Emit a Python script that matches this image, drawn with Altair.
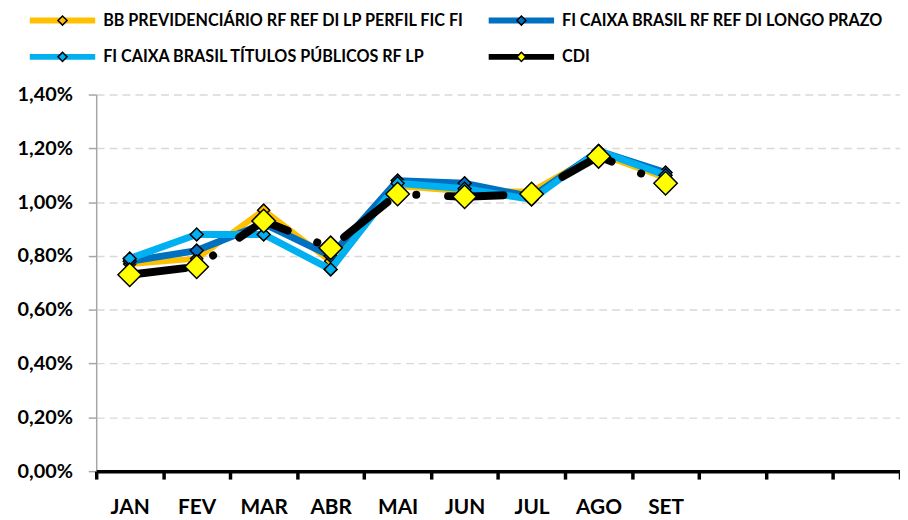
import altair as alt
import pandas as pd

# ---------------- data ----------------
months = ["JAN", "FEV", "MAR", "ABR", "MAI", "JUN", "JUL", "AGO", "SET"]
blank_months = ["OUT", "NOV", "DEZ"]
series_names = [
    "BB PREVIDENCIÁRIO RF REF DI LP PERFIL FIC FI",
    "FI CAIXA BRASIL RF REF DI LONGO PRAZO",
    "FI CAIXA BRASIL TÍTULOS PÚBLICOS RF LP",
    "CDI",
]
bb_values = [0.77, 0.79, 0.97, 0.78, 1.06, 1.04, 1.04, 1.18, 1.09]
caixa_di_values = [0.78, 0.82, 0.92, 0.80, 1.08, 1.07, 1.02, 1.19, 1.11]
caixa_tp_values = [0.79, 0.88, 0.88, 0.75, 1.07, 1.05, 1.01, 1.19, 1.10]
cdi_values = [0.73, 0.76, 0.93, 0.83, 1.03, 1.02, 1.03, 1.17, 1.07]
y_ticks = [0.0, 0.2, 0.4, 0.6, 0.8, 1.0, 1.2, 1.4]

# ---------------- styles ----------------
line_colors = ["#FFC000", "#0070C0", "#00B0F0", "#000000"]
marker_fills = ["#FFC000", "#0070C0", "#00B0F0", "#FFFF00"]
line_widths = [6, 7, 7, 8]
marker_sizes = [150, 170, 170, 560]
cdi_dash = [56, 32, 0.1, 32]
legend_order = [0, 2, 1, 3]  # legend fills column by column
FONT = "Lato"

rows = []
for name, vals in zip(series_names, [bb_values, caixa_di_values, caixa_tp_values, cdi_values]):
    for m, v in zip(months, vals):
        rows.append({"mes": m, "serie": name, "serie_f": name, "valor": v})
df = pd.DataFrame(rows)

leg_domain = [series_names[i] for i in legend_order]
leg_line_range = [line_colors[i] for i in legend_order]
leg_fill_range = [marker_fills[i] for i in legend_order]

x_enc = alt.X(
    "mes:N",
    scale=alt.Scale(type="band", domain=months + blank_months, paddingInner=0, paddingOuter=0),
    axis=alt.Axis(
        title=None, orient="bottom", tickBand="extent", labelAngle=0,
        labelExpr="indexof(['OUT','NOV','DEZ'], datum.value) >= 0 ? '' : datum.value",
        labelFont=FONT, labelFontWeight="bold", labelFontSize=21, labelColor="black",
        labelPadding=18, domainColor="black", domainWidth=3.5, tickColor="black",
        tickWidth=3.5, tickSize=8, grid=False, zindex=1,
    ),
)
y_enc = alt.Y(
    "valor:Q",
    scale=alt.Scale(domain=[0, 1.4], nice=False, zero=True),
    axis=alt.Axis(
        title=None, values=y_ticks,
        labelExpr="replace(format(datum.value, '.2f'), '.', ',') + '%'",
        labelFont=FONT, labelFontWeight="bold", labelFontSize=20, labelColor="black",
        labelPadding=16, tickSize=8, tickColor="#A6A6A6", tickWidth=1.5,
        domainColor="#A6A6A6", domainWidth=1.5, grid=True, gridColor="#D9D9D9",
        gridDash=[8, 5], gridWidth=1.5,
    ),
)

common_leg = dict(
    title=None, orient="none", legendX=-70, legendY=-83, columns=2,
    labelFont=FONT, labelFontWeight="bold", labelFontSize=16.3, labelColor="black",
    labelOffset=5, labelLimit=800, columnPadding=21, rowPadding=20,
    clipHeight=16, padding=0,
)
leg_lines = alt.Legend(
    symbolType="stroke", symbolSize=4356, symbolStrokeWidth=6, zindex=1, **common_leg
)
leg_marks = alt.Legend(
    symbolType="M0,-0.13L0.13,0L0,0.13L-0.13,0Z", symbolSize=4970.25,
    symbolStrokeWidth=1.5, symbolStrokeColor="black", symbolOpacity=1,
    labelOpacity=0, zindex=2, **common_leg
)

color_enc = alt.Color(
    "serie:N", scale=alt.Scale(domain=leg_domain, range=leg_line_range), legend=leg_lines
)

base = alt.Chart(df)
layers = []
for i, name in enumerate(series_names):
    line_kwargs = dict(strokeWidth=line_widths[i], strokeCap="round", strokeJoin="round")
    if name == "CDI":
        line_kwargs["strokeDash"] = cdi_dash
    ln = (
        base.transform_filter(alt.FieldEqualPredicate(field="serie", equal=name))
        .mark_line(**line_kwargs)
        .encode(x=x_enc, y=y_enc, color=color_enc)
    )
    pt = (
        base.transform_filter(alt.FieldEqualPredicate(field="serie", equal=name))
        .mark_point(shape="diamond", filled=True, fill=marker_fills[i], stroke="black",
                    strokeWidth=1.5, size=marker_sizes[i], opacity=1)
        .encode(x=x_enc, y=y_enc)
    )
    layers += [ln, pt]

legend_layer = base.mark_point(filled=True, size=0, stroke="black", strokeWidth=1.5).encode(
    x=x_enc, y=y_enc,
    fill=alt.Fill("serie_f:N", sort=leg_domain, scale=alt.Scale(range=leg_fill_range), legend=leg_marks),
)
layers.append(legend_layer)

chart = (
    alt.layer(*layers)
    .properties(
        width=811, height=380, autosize=alt.AutoSizeParams(type="none"),
        padding={"left": 89, "top": 85, "right": 0, "bottom": 50},
    )
    .configure_view(stroke=None)
)

chart.save("out.html", embed_options={"renderer": "svg", "actions": False})
